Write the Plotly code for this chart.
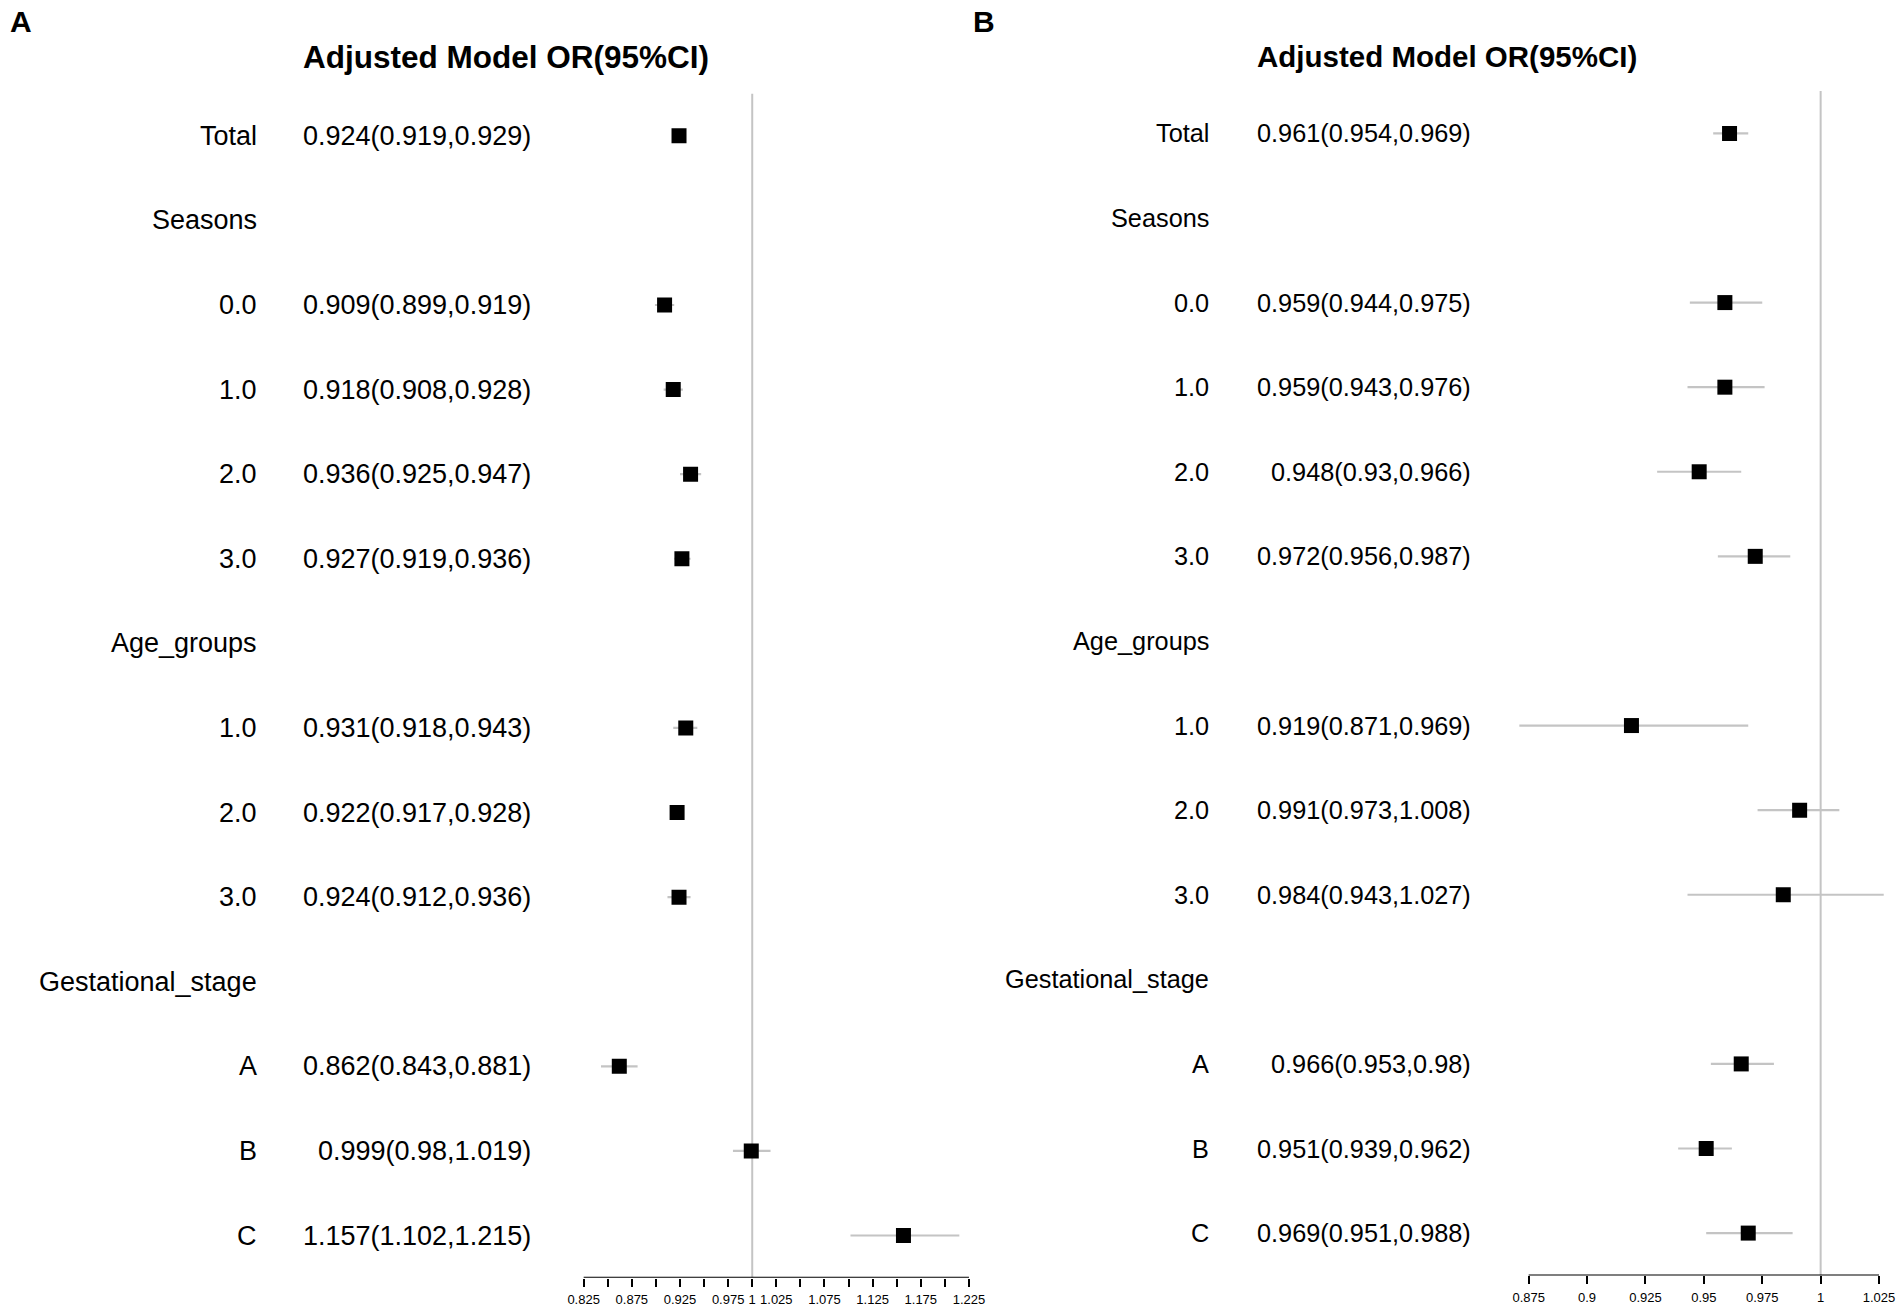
import plotly.graph_objects as go

W, H = 1901, 1314
FONT = "Liberation Sans, Arial, Helvetica, sans-serif"
XSHIFT = 3.5  # small horizontal correction of the measured pixel positions

# ---------------- data ----------------
row_labels = ["Total", "Seasons", "0.0", "1.0", "2.0", "3.0", "Age_groups",
              "1.0", "2.0", "3.0", "Gestational_stage", "A", "B", "C"]
row_pos = [1, 2, 3, 4, 5, 6, 7, 8, 9, 10, 11, 12, 13, 14]

# Panel A
or_A = [0.924, None, 0.909, 0.918, 0.936, 0.927, None, 0.931, 0.922, 0.924, None, 0.862, 0.999, 1.157]
lo_A = [0.919, None, 0.899, 0.908, 0.925, 0.919, None, 0.918, 0.917, 0.912, None, 0.843, 0.980, 1.102]
hi_A = [0.929, None, 0.919, 0.928, 0.947, 0.936, None, 0.943, 0.928, 0.936, None, 0.881, 1.019, 1.215]
txt_A = ["0.924(0.919,0.929)", "", "0.909(0.899,0.919)", "0.918(0.908,0.928)",
         "0.936(0.925,0.947)", "0.927(0.919,0.936)", "", "0.931(0.918,0.943)",
         "0.922(0.917,0.928)", "0.924(0.912,0.936)", "", "0.862(0.843,0.881)",
         "0.999(0.98,1.019)", "1.157(1.102,1.215)"]
tickvals_A = [0.825, 0.85, 0.875, 0.9, 0.925, 0.95, 0.975, 1.0, 1.025,
              1.05, 1.075, 1.1, 1.125, 1.15, 1.175, 1.2, 1.225]
ticktext_A = ["0.825", "", "0.875", "", "0.925", "", "0.975", "1", "1.025",
              "", "1.075", "", "1.125", "", "1.175", "", "1.225"]

# Panel B
or_B = [0.961, None, 0.959, 0.959, 0.948, 0.972, None, 0.919, 0.991, 0.984, None, 0.966, 0.951, 0.969]
lo_B = [0.954, None, 0.944, 0.943, 0.930, 0.956, None, 0.871, 0.973, 0.943, None, 0.953, 0.939, 0.951]
hi_B = [0.969, None, 0.975, 0.976, 0.966, 0.987, None, 0.969, 1.008, 1.027, None, 0.980, 0.962, 0.988]
txt_B = ["0.961(0.954,0.969)", "", "0.959(0.944,0.975)", "0.959(0.943,0.976)",
         "0.948(0.93,0.966)", "0.972(0.956,0.987)", "", "0.919(0.871,0.969)",
         "0.991(0.973,1.008)", "0.984(0.943,1.027)", "", "0.966(0.953,0.98)",
         "0.951(0.939,0.962)", "0.969(0.951,0.988)"]
tickvals_B = [0.875, 0.9, 0.925, 0.95, 0.975, 1.0, 1.025]
ticktext_B = ["0.875", "0.9", "0.925", "0.95", "0.975", "1", "1.025"]

title_text = "Adjusted Model OR(95%CI)"
panel_letters = ["A", "B"]

# ---------------- layout helpers ----------------
def fx(px):
    return (px + XSHIFT) / W

def fy(py):
    return 1 - py / H

fig = go.Figure()

panels = [
    dict(xa="x", ya="y", est=or_A, lo=lo_A, hi=hi_A, txt=txt_A,
         lab_x=256, val_x=531, fs=27, title_x=504, title_y=57, title_fs=31.5,
         letter_x=18, letter_y=22, lo_tick=tickvals_A[0], hi_tick=tickvals_A[-1]),
    dict(xa="x2", ya="y2", est=or_B, lo=lo_B, hi=hi_B, txt=txt_B,
         lab_x=1211, val_x=1473, fs=25.3, title_x=1447, title_y=56, title_fs=29.5,
         letter_x=983, letter_y=22, lo_tick=tickvals_B[0], hi_tick=tickvals_B[-1]),
]

annotations = []
shapes = []
for i, p in enumerate(panels):
    # CI lines
    lx, ly = [], []
    for r, lo, hi in zip(row_pos, p["lo"], p["hi"]):
        if lo is None:
            continue
        lx += [lo, hi, None]
        ly += [r, r, None]
    fig.add_trace(go.Scatter(x=lx, y=ly, mode="lines", xaxis=p["xa"], yaxis=p["ya"],
                             line=dict(color="#c4c4c4", width=2.2),
                             hoverinfo="skip", showlegend=False))
    mx = [v for v in p["est"] if v is not None]
    my = [r for r, v in zip(row_pos, p["est"]) if v is not None]
    fig.add_trace(go.Scatter(x=mx, y=my, mode="markers", xaxis=p["xa"], yaxis=p["ya"],
                             marker=dict(symbol="square", size=15, color="black",
                                         line=dict(width=0)),
                             hoverinfo="skip", showlegend=False))
    # reference line at OR = 1
    shapes.append(dict(type="line", xref=p["xa"], yref=p["ya"], x0=1, x1=1,
                       y0=0.5, y1=14.5, line=dict(color="#c4c4c4", width=2), layer="below"))
    # axis line spanning the ticks
    shapes.append(dict(type="line", xref=p["xa"], yref=p["ya"], x0=p["lo_tick"], x1=p["hi_tick"],
                       y0=14.5, y1=14.5, line=dict(color="black", width=2)))
    # row texts
    for r, lab, t in zip(row_pos, row_labels, p["txt"]):
        annotations.append(dict(xref="paper", yref=p["ya"], x=fx(p["lab_x"]), y=r,
                                text=lab, showarrow=False, xanchor="right", yanchor="middle",
                                font=dict(family=FONT, size=p["fs"], color="black")))
        if t:
            annotations.append(dict(xref="paper", yref=p["ya"], x=fx(p["val_x"]), y=r,
                                    text=t, showarrow=False, xanchor="right", yanchor="middle",
                                    font=dict(family=FONT, size=p["fs"], color="black")))
    annotations.append(dict(xref="paper", yref="paper", x=fx(p["title_x"]), y=fy(p["title_y"]),
                            text="<b>" + title_text + "</b>", showarrow=False,
                            xanchor="center", yanchor="middle",
                            font=dict(family=FONT, size=p["title_fs"], color="black")))
    annotations.append(dict(xref="paper", yref="paper", x=fx(p["letter_x"]), y=fy(p["letter_y"]),
                            text="<b>" + panel_letters[i] + "</b>", showarrow=False,
                            xanchor="center", yanchor="middle",
                            font=dict(family=FONT, size=30, color="black")))

# pixel geometry -> axis domains
# left: 0.825 at 581.7 px, 965.8 px per unit; right: 0.875 at 1529.2 px, 2342 px per unit
xr_A = [0.80, 1.25]
xr_B = [0.865, 1.03]
dom_A = [fx(581.7 + (xr_A[0] - 0.825) * 965.8), fx(581.7 + (xr_A[1] - 0.825) * 965.8)]
dom_B = [fx(1529.2 + (xr_B[0] - 0.875) * 2342), min(1.0, fx(1529.2 + (xr_B[1] - 0.875) * 2342))]

xaxis_common = dict(showgrid=False, zeroline=False, showline=False, ticks="outside",
                    ticklen=8, tickwidth=2, tickcolor="black", ticklabelstandoff=2,
                    tickfont=dict(family=FONT, size=13, color="black"), fixedrange=True)
yaxis_common = dict(showgrid=False, zeroline=False, showline=False, showticklabels=False,
                    ticks="", range=[14.5, 0.5], fixedrange=True)

fig.update_layout(
    width=W, height=H,
    margin=dict(l=0, r=0, t=0, b=0),
    paper_bgcolor="white", plot_bgcolor="white",
    showlegend=False,
    hovermode=False,
    xaxis=dict(domain=dom_A, range=xr_A, anchor="y", tickvals=tickvals_A,
               ticktext=ticktext_A, **xaxis_common),
    xaxis2=dict(domain=dom_B, range=xr_B, anchor="y2", tickvals=tickvals_B,
                ticktext=ticktext_B, **xaxis_common),
    yaxis=dict(domain=[fy(1277.8), fy(93.5)], anchor="x", **yaxis_common),
    yaxis2=dict(domain=[fy(1275.4), fy(91.1)], anchor="x2", **yaxis_common),
    annotations=annotations,
    shapes=shapes,
)

fig.write_html("out.html",
               config={"displayModeBar": False, "staticPlot": True},
               post_script="document.body.style.margin='0';document.body.style.overflow='hidden';")
